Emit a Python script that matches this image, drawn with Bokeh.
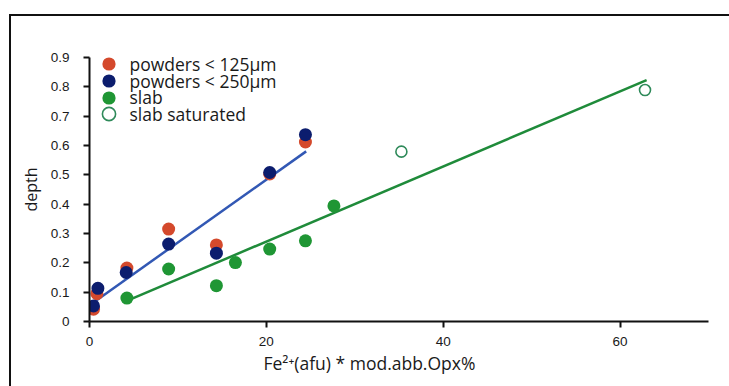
from bokeh.plotting import figure
from bokeh.models import FixedTicker, Legend, LegendItem, Title
from bokeh.embed import file_html
from bokeh.resources import INLINE

# ---- data ----
p125_x = [0.45, 0.84, 4.23, 8.95, 14.35, 20.38, 24.42]
p125_y = [0.042, 0.095, 0.182, 0.315, 0.261, 0.503, 0.612]
p250_x = [0.45, 0.95, 4.15, 8.95, 14.35, 20.38, 24.42]
p250_y = [0.053, 0.113, 0.167, 0.264, 0.233, 0.508, 0.637]
slab_x = [4.23, 8.95, 14.35, 16.5, 20.38, 24.42, 27.64]
slab_y = [0.080, 0.179, 0.122, 0.201, 0.247, 0.275, 0.394]
sat_x = [35.27, 62.82]
sat_y = [0.579, 0.789]
fit_powder_x = [0.45, 24.5]
fit_powder_y = [0.065, 0.580]
fit_slab_x = [4.42, 63.0]
fit_slab_y = [0.073, 0.823]

x_ticks = [0, 20, 40, 60]
y_ticks = [0, 0.1, 0.2, 0.3, 0.4, 0.5, 0.6, 0.7, 0.8, 0.9]
y_tick_labels = ["0", "0.1", "0.2", "0.3", "0.4", "0.5", "0.6", "0.7", "0.8", "0.9"]
legend_labels = ["powders < 125\u00b5m", "powders < 250\u00b5m", "slab", "slab saturated"]
x_title = "Fe\u00b2\u207a(afu) * mod.abb.Opx%"
y_title = "depth"

RED = "#d4492c"
NAVY = "#0c1d6e"
GREEN = "#1f9634"
OPEN_GREEN = "#2f8a5a"
BLUE_LINE = "#3258b4"
GREEN_LINE = "#1f8b3a"

p = figure(width=720, height=372, x_range=(0, 70), y_range=(0, 0.9),
           output_backend="svg", toolbar_location=None,
           min_border_left=78, min_border_right=23, min_border_top=41, min_border_bottom=67,
           margin=(14, 0, 0, 9),
           styles={"border-left": "2px solid #111", "border-top": "2px solid #111"})
p.outline_line_color = None
p.grid.visible = False
p.background_fill_color = "white"
p.border_fill_color = "white"

for ax in (p.xaxis[0], p.yaxis[0]):
    ax.axis_line_width = 2
    ax.axis_line_color = "#111"
    ax.major_tick_line_width = 2
    ax.major_tick_line_color = "#111"
    ax.major_tick_in = 0
    ax.major_tick_out = 6
    ax.minor_tick_line_color = None
    ax.major_label_text_font = "Liberation Sans"
    ax.major_label_text_font_size = "13.5px"
    ax.major_label_text_color = "#1a1a1a"
    ax.axis_label_text_font = "Open Sans"
    ax.axis_label_text_font_size = "16px"
    ax.axis_label_text_font_style = "normal"
    ax.axis_label_text_color = "#1a1a1a"

p.xaxis.ticker = FixedTicker(ticks=x_ticks)
p.yaxis.ticker = FixedTicker(ticks=y_ticks)
p.yaxis.major_label_overrides = {t: l for t, l in zip(y_ticks, y_tick_labels)}
p.xaxis.major_label_standoff = 9
p.yaxis.major_label_standoff = 14
p.yaxis.axis_label = y_title
p.yaxis.axis_label_standoff = 6

p.add_layout(Title(text=x_title, align="left", offset=174, standoff=0,
                   text_font="Open Sans", text_font_size="17.5px", text_font_style="normal",
                   text_color="#1a1a1a"), "below")

p.line(fit_powder_x, fit_powder_y, line_color=BLUE_LINE, line_width=2.5)
p.line(fit_slab_x, fit_slab_y, line_color=GREEN_LINE, line_width=2.5)

r1 = p.scatter(p125_x, p125_y, size=13, fill_color=RED, line_color=None)
r2 = p.scatter(p250_x, p250_y, size=13, fill_color=NAVY, line_color=None)
r3 = p.scatter(slab_x, slab_y, size=13, fill_color=GREEN, line_color=None)
r4 = p.scatter(sat_x, sat_y, size=11, fill_color=None, line_color=OPEN_GREEN, line_width=1.6)

# one legend per entry so that the legend markers keep their full size
legend_y = [241, 224, 207.5, 191]
for lab, r, ly in zip(legend_labels, [r1, r2, r3, r4], legend_y):
    lg = Legend(items=[LegendItem(label=lab, renderers=[r])],
                location=(2.5, ly), spacing=0, padding=0, margin=0,
                label_text_font="Open Sans", label_text_font_size="17.5px", label_text_color="#1a1a1a",
                label_height=33, glyph_width=33, glyph_height=33, label_standoff=5,
                border_line_color=None, background_fill_alpha=0)
    p.add_layout(lg)

open("out.html", "w").write(file_html(p, INLINE))
